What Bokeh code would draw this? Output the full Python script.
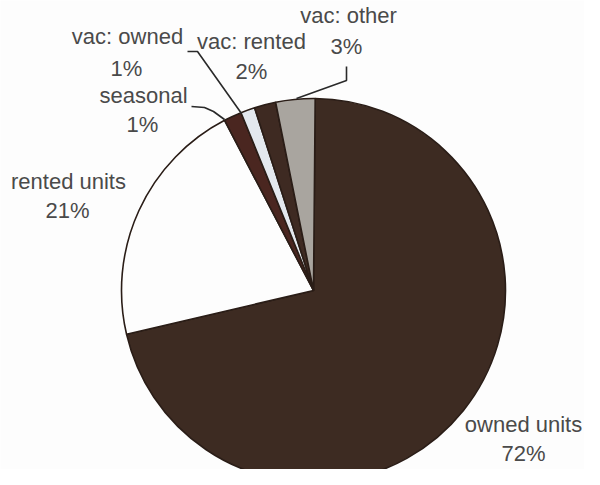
import math
from bokeh.plotting import figure
from bokeh.models import Range1d, ColumnDataSource
from bokeh.embed import file_html
from bokeh.resources import INLINE
from bokeh.core.properties import value

# ---- data ----
categories = ["owned units", "rented units", "seasonal", "vac: owned", "vac: rented", "vac: other"]
shares = [71.2, 21.0, 1.5, 1.2, 1.8, 3.3]
pct_labels = ["72%", "21%", "1%", "1%", "2%", "3%"]

# ---- style / layout ----
colors = ["#3d2b22", "#fdfdfd", "#4a2620", "#e3e8ee", "#3e2a22", "#a9a59f"]
W, H = 584, 469


def Y(py):
    # picture pixel row -> data y
    return H - py


cx, cy, R = 313, Y(290), 192
start_deg = 89.5

p = figure(width=W, height=H, x_range=Range1d(0, W), y_range=Range1d(0, H),
           output_backend="svg", toolbar_location=None, min_border=0)
p.axis.visible = False
p.grid.visible = False
p.outline_line_color = None
p.background_fill_color = "#fdfdfd"
p.border_fill_color = "#fdfdfd"

total = sum(shares)
starts, ends = [], []
cum = 0.0
for s in shares:
    a0 = start_deg - cum * 360.0 / total
    a1 = a0 - s * 360.0 / total
    starts.append(math.radians(a1))
    ends.append(math.radians(a0))
    cum += s

src = ColumnDataSource(dict(cat=categories, start=starts, end=ends, color=colors))
p.wedge(x=cx, y=cy, radius=R, start_angle="start", end_angle="end", direction="anticlock",
        fill_color="color", line_color="#2a1d17", line_width=1.6, source=src)

# label placement (picture pixel centres): name line, percentage line
name_pos = [(523, 424), (68, 181), (143, 95), (127, 36), (251, 41), (348, 15)]
pct_pos = [(523, 453), (67, 210), (142, 124), (126, 68), (251, 71), (346, 46)]

lab = ColumnDataSource(dict(
    x=[q[0] for q in name_pos] + [q[0] for q in pct_pos],
    y=[Y(q[1]) for q in name_pos] + [Y(q[1]) for q in pct_pos],
    t=categories + pct_labels,
))
p.text(x="x", y="y", text="t", source=lab, text_font=value("Liberation Sans"),
       text_font_size="22px", text_color="#4a4a4a", text_align="center",
       text_baseline="middle")

# leader lines (picture pixel coordinates)
leaders = [
    [(191, 106), (204, 107), (213, 111), (224, 119)],   # seasonal
    [(187, 51), (197, 51), (241, 113)],                 # vac: owned
    [(346, 66), (346, 80), (296, 98)],                  # vac: other
]
for pts in leaders:
    p.line([q[0] for q in pts], [Y(q[1]) for q in pts], line_color="#2a2a2a", line_width=1.6)

open("out.html", "w").write(file_html(p, INLINE))
